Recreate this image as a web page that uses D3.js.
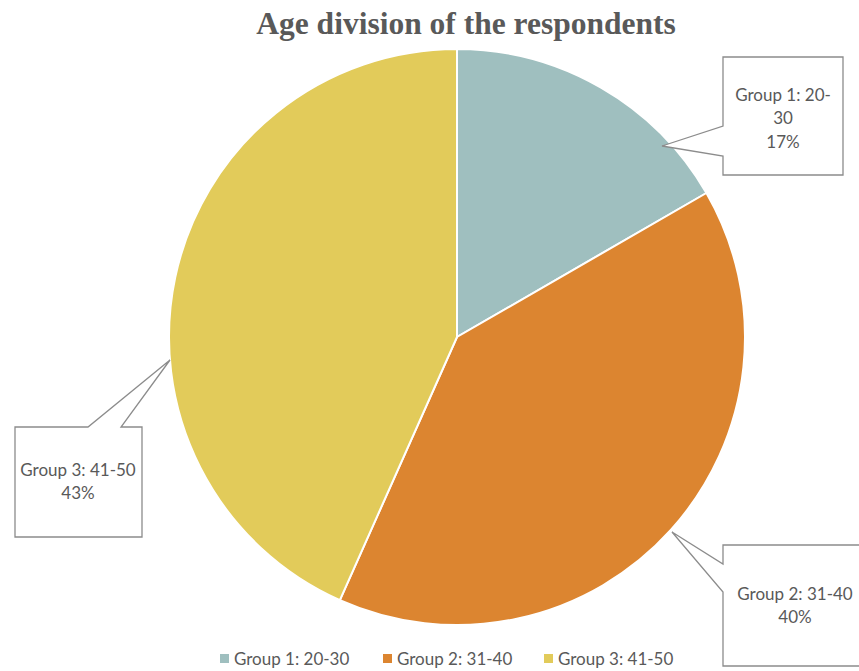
<!DOCTYPE html>
<html><head><meta charset="utf-8">
<script src="https://cdn.jsdelivr.net/npm/d3@7"></script>
<style>body{margin:0;background:#fff}svg{display:block}</style>
</head><body>
<svg id="c" width="859" height="671"></svg>
<script>
const categories = ["Group 1: 20-30", "Group 2: 31-40", "Group 3: 41-50"];
const values = [5, 12, 13];
const colors = ["#9FBFBF", "#DC8530", "#E2CB5A"];
const title = "Age division of the respondents";

const svg = d3.select("#c");
const cx = 457, cy = 337, R = 288;
const total = d3.sum(values);
const pie = d3.pie().sort(null).value(d => d)(values);
const arc = d3.arc().innerRadius(0).outerRadius(R);
const g = svg.append("g").attr("transform", `translate(${cx},${cy})`);
g.selectAll("path").data(pie).join("path")
  .attr("d", arc).attr("fill", (d, i) => colors[i])
  .attr("stroke", "#fff").attr("stroke-width", 2);

svg.append("text").attr("x", 466).attr("y", 34).attr("text-anchor", "middle")
  .attr("font-family", "Liberation Serif, Times New Roman, serif").attr("font-weight", "bold")
  .attr("font-size", 31.5).attr("fill", "#595959").text(title);

const FONT = "Lato, 'Open Sans', sans-serif";
const FS = 17;
const pct = v => Math.round(v / total * 100) + "%";
const callouts = [
  {box: [723, 57, 120, 118], poly: [[723,126],[662,146],[723,156]], lines: ["Group 1: 20-", "30", pct(values[0])], tx: 783, ty: [101, 124, 148]},
  {box: [723, 545, 145, 121], poly: [[723,564],[672,532],[723,592]], lines: [categories[1], pct(values[1])], tx: 795, ty: [600, 623]},
  {box: [15, 427, 127, 110], poly: [[88,427],[170,360],[121,427]], lines: [categories[2], pct(values[2])], tx: 78, ty: [476, 499]}
];
callouts.forEach(c => {
  const [x, y, w, h] = c.box;
  const p = c.poly;
  let d;
  if (p[0][0] === x) {
    d = `M${x},${y}H${x+w}V${y+h}H${x}V${p[2][1]}L${p[1][0]},${p[1][1]}L${x},${p[0][1]}Z`;
  } else {
    d = `M${x},${y}H${p[0][0]}L${p[1][0]},${p[1][1]}L${p[2][0]},${y}H${x+w}V${y+h}H${x}Z`;
  }
  svg.append("path").attr("d", d).attr("fill", "#fff").attr("stroke", "#8c8c8c").attr("stroke-width", 1.3);
  c.lines.forEach((t, i) => {
    svg.append("text").attr("x", c.tx).attr("y", c.ty[i]).attr("text-anchor", "middle")
      .attr("font-family", FONT).attr("font-size", FS)
      .attr("fill", "#595959").text(t);
  });
});

const lx = [220, 383, 544];
categories.forEach((c, i) => {
  svg.append("rect").attr("x", lx[i]).attr("y", 654).attr("width", 9).attr("height", 9).attr("fill", colors[i]);
  svg.append("text").attr("x", lx[i] + 14).attr("y", 665)
    .attr("font-family", FONT).attr("font-size", FS)
    .attr("fill", "#595959").text(c);
});
</script>
</body></html>
